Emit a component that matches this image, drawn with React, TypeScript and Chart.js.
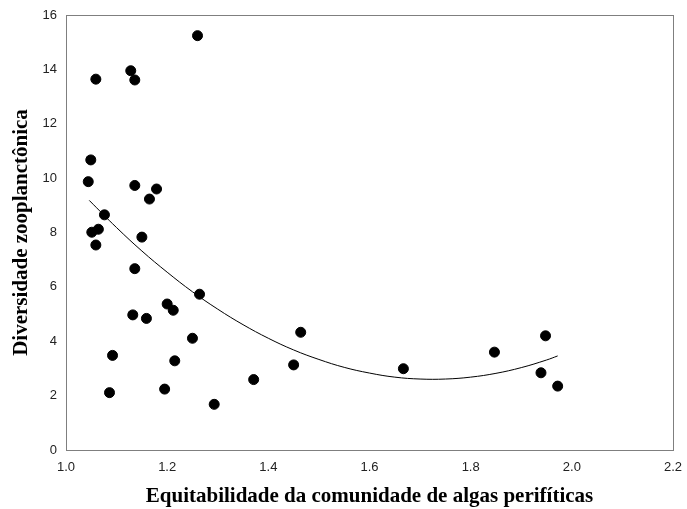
import React, { useEffect, useRef } from "react";
import { Chart, registerables } from "chart.js";

Chart.register(...registerables);

const xValues = [1.044, 1.049, 1.059, 1.051, 1.064, 1.059, 1.076, 1.086, 1.092, 1.128, 1.136, 1.260, 1.136, 1.179, 1.165, 1.150, 1.136, 1.132, 1.159, 1.200, 1.212, 1.264, 1.250, 1.215, 1.195, 1.293, 1.371, 1.450, 1.464, 1.667, 1.847, 1.948, 1.939, 1.972];
const yValues = [9.87, 10.67, 13.64, 8.01, 8.12, 7.54, 8.65, 2.11, 3.48, 13.95, 13.61, 15.24, 9.73, 9.60, 9.23, 7.83, 6.67, 4.97, 4.84, 5.37, 5.14, 5.73, 4.11, 3.28, 2.24, 1.68, 2.59, 3.13, 4.33, 2.99, 3.60, 4.20, 2.84, 2.35];

const trendX = [1.046, 1.10, 1.15, 1.20, 1.25, 1.30, 1.35, 1.40, 1.45, 1.50, 1.55, 1.60, 1.65, 1.70, 1.75, 1.80, 1.85, 1.90, 1.95, 1.972];
const trendY = [9.18, 8.18, 7.32, 6.54, 5.82, 5.18, 4.61, 4.11, 3.68, 3.33, 3.04, 2.83, 2.68, 2.61, 2.61, 2.68, 2.82, 3.03, 3.31, 3.46];

const xTitle = "Equitabilidade da comunidade de algas perifíticas";
const yTitle = "Diversidade zooplanctônica";

const boxPlugin = {
  id: "box",
  afterDraw(chart: any) {
    const { ctx, chartArea } = chart;
    ctx.save();
    ctx.strokeStyle = "#7f7f7f";
    ctx.lineWidth = 1;
    ctx.strokeRect(
      Math.round(chartArea.left) + 0.5,
      Math.round(chartArea.top) + 0.5,
      Math.round(chartArea.right - chartArea.left),
      Math.round(chartArea.bottom - chartArea.top)
    );
    ctx.restore();
  },
};

export default function App() {
  const ref = useRef<HTMLCanvasElement>(null);
  useEffect(() => {
    const chart = new Chart(ref.current!, {
      type: "scatter",
      data: {
        datasets: [
          {
            data: xValues.map((x, i) => ({ x, y: yValues[i] })),
            backgroundColor: "#000",
            borderColor: "#000",
            pointRadius: 5,
            pointHoverRadius: 5,
          },
          {
            type: "line",
            data: trendX.map((x, i) => ({ x, y: trendY[i] })),
            borderColor: "#000",
            borderWidth: 1,
            pointRadius: 0,
            tension: 0.4,
            fill: false,
          } as any,
        ],
      },
      options: {
        animation: false,
        responsive: false,
        events: [],
        layout: { padding: { top: 15, right: 14, left: 0, bottom: 0 } },
        plugins: { legend: { display: false }, tooltip: { enabled: false } },
        scales: {
          x: {
            type: "linear",
            min: 1.0,
            max: 2.2,
            grid: { display: false, drawTicks: false },
            border: { display: false },
            ticks: {
              stepSize: 0.2,
              padding: 10,
              color: "#222",
              font: { family: "Liberation Sans", size: 13 },
              callback: (v: any) => Number(v).toFixed(1),
            },
            title: {
              display: true,
              text: xTitle,
              color: "#000",
              font: { family: "Liberation Serif", size: 21, weight: "bold" },
              padding: { top: 6, bottom: 0 },
            },
            afterFit: (s: any) => {
              s.height = 59;
              s.paddingRight = 0;
              s.paddingLeft = 0;
            },
          },
          y: {
            type: "linear",
            min: 0,
            max: 16,
            grid: { display: false, drawTicks: false },
            border: { display: false },
            ticks: {
              stepSize: 2,
              padding: 9,
              color: "#222",
              font: { family: "Liberation Sans", size: 13 },
            },
            title: {
              display: true,
              text: yTitle,
              color: "#000",
              font: { family: "Liberation Serif", size: 21, weight: "bold" },
              padding: { top: 9, bottom: 4 },
            },
            afterFit: (s: any) => {
              s.width = 66;
              s.paddingTop = 0;
              s.paddingBottom = 0;
            },
          },
        },
      },
      plugins: [boxPlugin],
    });
    return () => chart.destroy();
  }, []);
  return (
    <div style={{ position: "fixed", left: 0, top: 0, width: 687, height: 509, background: "#fff" }}>
      <canvas ref={ref} width={687} height={509} style={{ display: "block" }} />
    </div>
  );
}
